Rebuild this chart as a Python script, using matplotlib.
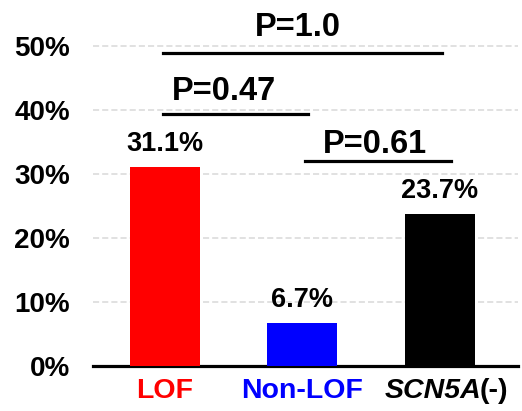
import matplotlib
matplotlib.use("Agg")
import matplotlib.pyplot as plt
from matplotlib.ticker import PercentFormatter
from matplotlib.offsetbox import TextArea, HPacker, AnnotationBbox

plt.rcParams["font.family"] = ["Liberation Sans", "DejaVu Sans"]
plt.rcParams["font.weight"] = "bold"

groups = ["LOF", "Non-LOF", "SCN5A"]
group_suffix = ["", "", "(-)"]
rates = [0.311, 0.067, 0.237]
bar_labels = ["31.1%", "6.7%", "23.7%"]
colors = ["#ff0000", "#0000ff", "#000000"]

# significance brackets: group a vs group b, with p-value text
cmp_pairs = [(0, 2), (0, 1), (1, 2)]
cmp_p = ["P=1.0", "P=0.47", "P=0.61"]
# layout of the brackets (line height, text baseline, text x, line ends)
cmp_line_y = [0.488, 0.394, 0.320]
cmp_text_y = [0.516, 0.416, 0.333]
cmp_text_x = [0.967, 0.43, 1.527]
cmp_ends = [(-0.015, 2.015), (-0.015, 1.04), (1.018, 2.08)]

fig = plt.figure(figsize=(5.22, 4.11), dpi=100)
ax = fig.add_axes([0.178, 0.1095, 0.814, 0.857])

x = list(range(len(groups)))
ax.bar(x, rates, width=0.51, color=colors, zorder=3)
for xi, v, lab in zip(x, rates, bar_labels):
    ax.text(xi, v + 0.025, lab, ha="center", va="baseline", fontsize=19.5, fontweight="bold")

for (a, b), p, ly, ty, tx, (x0, x1) in zip(cmp_pairs, cmp_p, cmp_line_y, cmp_text_y, cmp_text_x, cmp_ends):
    ax.plot([x0, x1], [ly, ly], color="black", lw=2.3, clip_on=False, zorder=4)
    ax.text(tx, ty, p, ha="center", va="baseline", fontsize=23.5, fontweight="bold", clip_on=False)

ax.set_xlim(-0.524, 2.567)
ax.set_ylim(0, 0.55)
ax.set_yticks([0, 0.1, 0.2, 0.3, 0.4, 0.5])
ax.yaxis.set_major_formatter(PercentFormatter(1.0, decimals=0))
ax.grid(axis="y", color="#d9d9d9", ls=(0, (4, 2)), lw=1.1, zorder=0)
ax.set_axisbelow(True)
for s in ("top", "right", "left"):
    ax.spines[s].set_visible(False)
ax.spines["bottom"].set_linewidth(2.3)
ax.tick_params(axis="y", length=0, pad=16.5, labelsize=20)
ax.tick_params(axis="x", length=0, pad=8.5, labelsize=20.5)
for lbl in ax.get_yticklabels():
    lbl.set_fontweight("bold")

# category labels; the gene name is italic, so it is built from two pieces
ax.set_xticks(x)
ax.set_xticklabels([g if not s else "" for g, s in zip(groups, group_suffix)])
for lbl, c in zip(ax.get_xticklabels(), colors):
    lbl.set_color(c)
    lbl.set_fontweight("bold")
for xi, g, s, c in zip(x, groups, group_suffix, colors):
    if not s:
        continue
    parts = HPacker(children=[
        TextArea(g, textprops=dict(fontsize=20.5, fontweight="bold", fontstyle="italic", color=c)),
        TextArea(s, textprops=dict(fontsize=20.5, fontweight="bold", color=c)),
    ], align="baseline", pad=0, sep=-1.5)
    ab = AnnotationBbox(parts, (xi, 0), xycoords=("data", "axes fraction"),
                        xybox=(4.5, -8.5), boxcoords="offset points",
                        box_alignment=(0.5, 1), frameon=False, annotation_clip=False)
    ax.add_artist(ab)

fig.savefig("out.png", dpi=100)
